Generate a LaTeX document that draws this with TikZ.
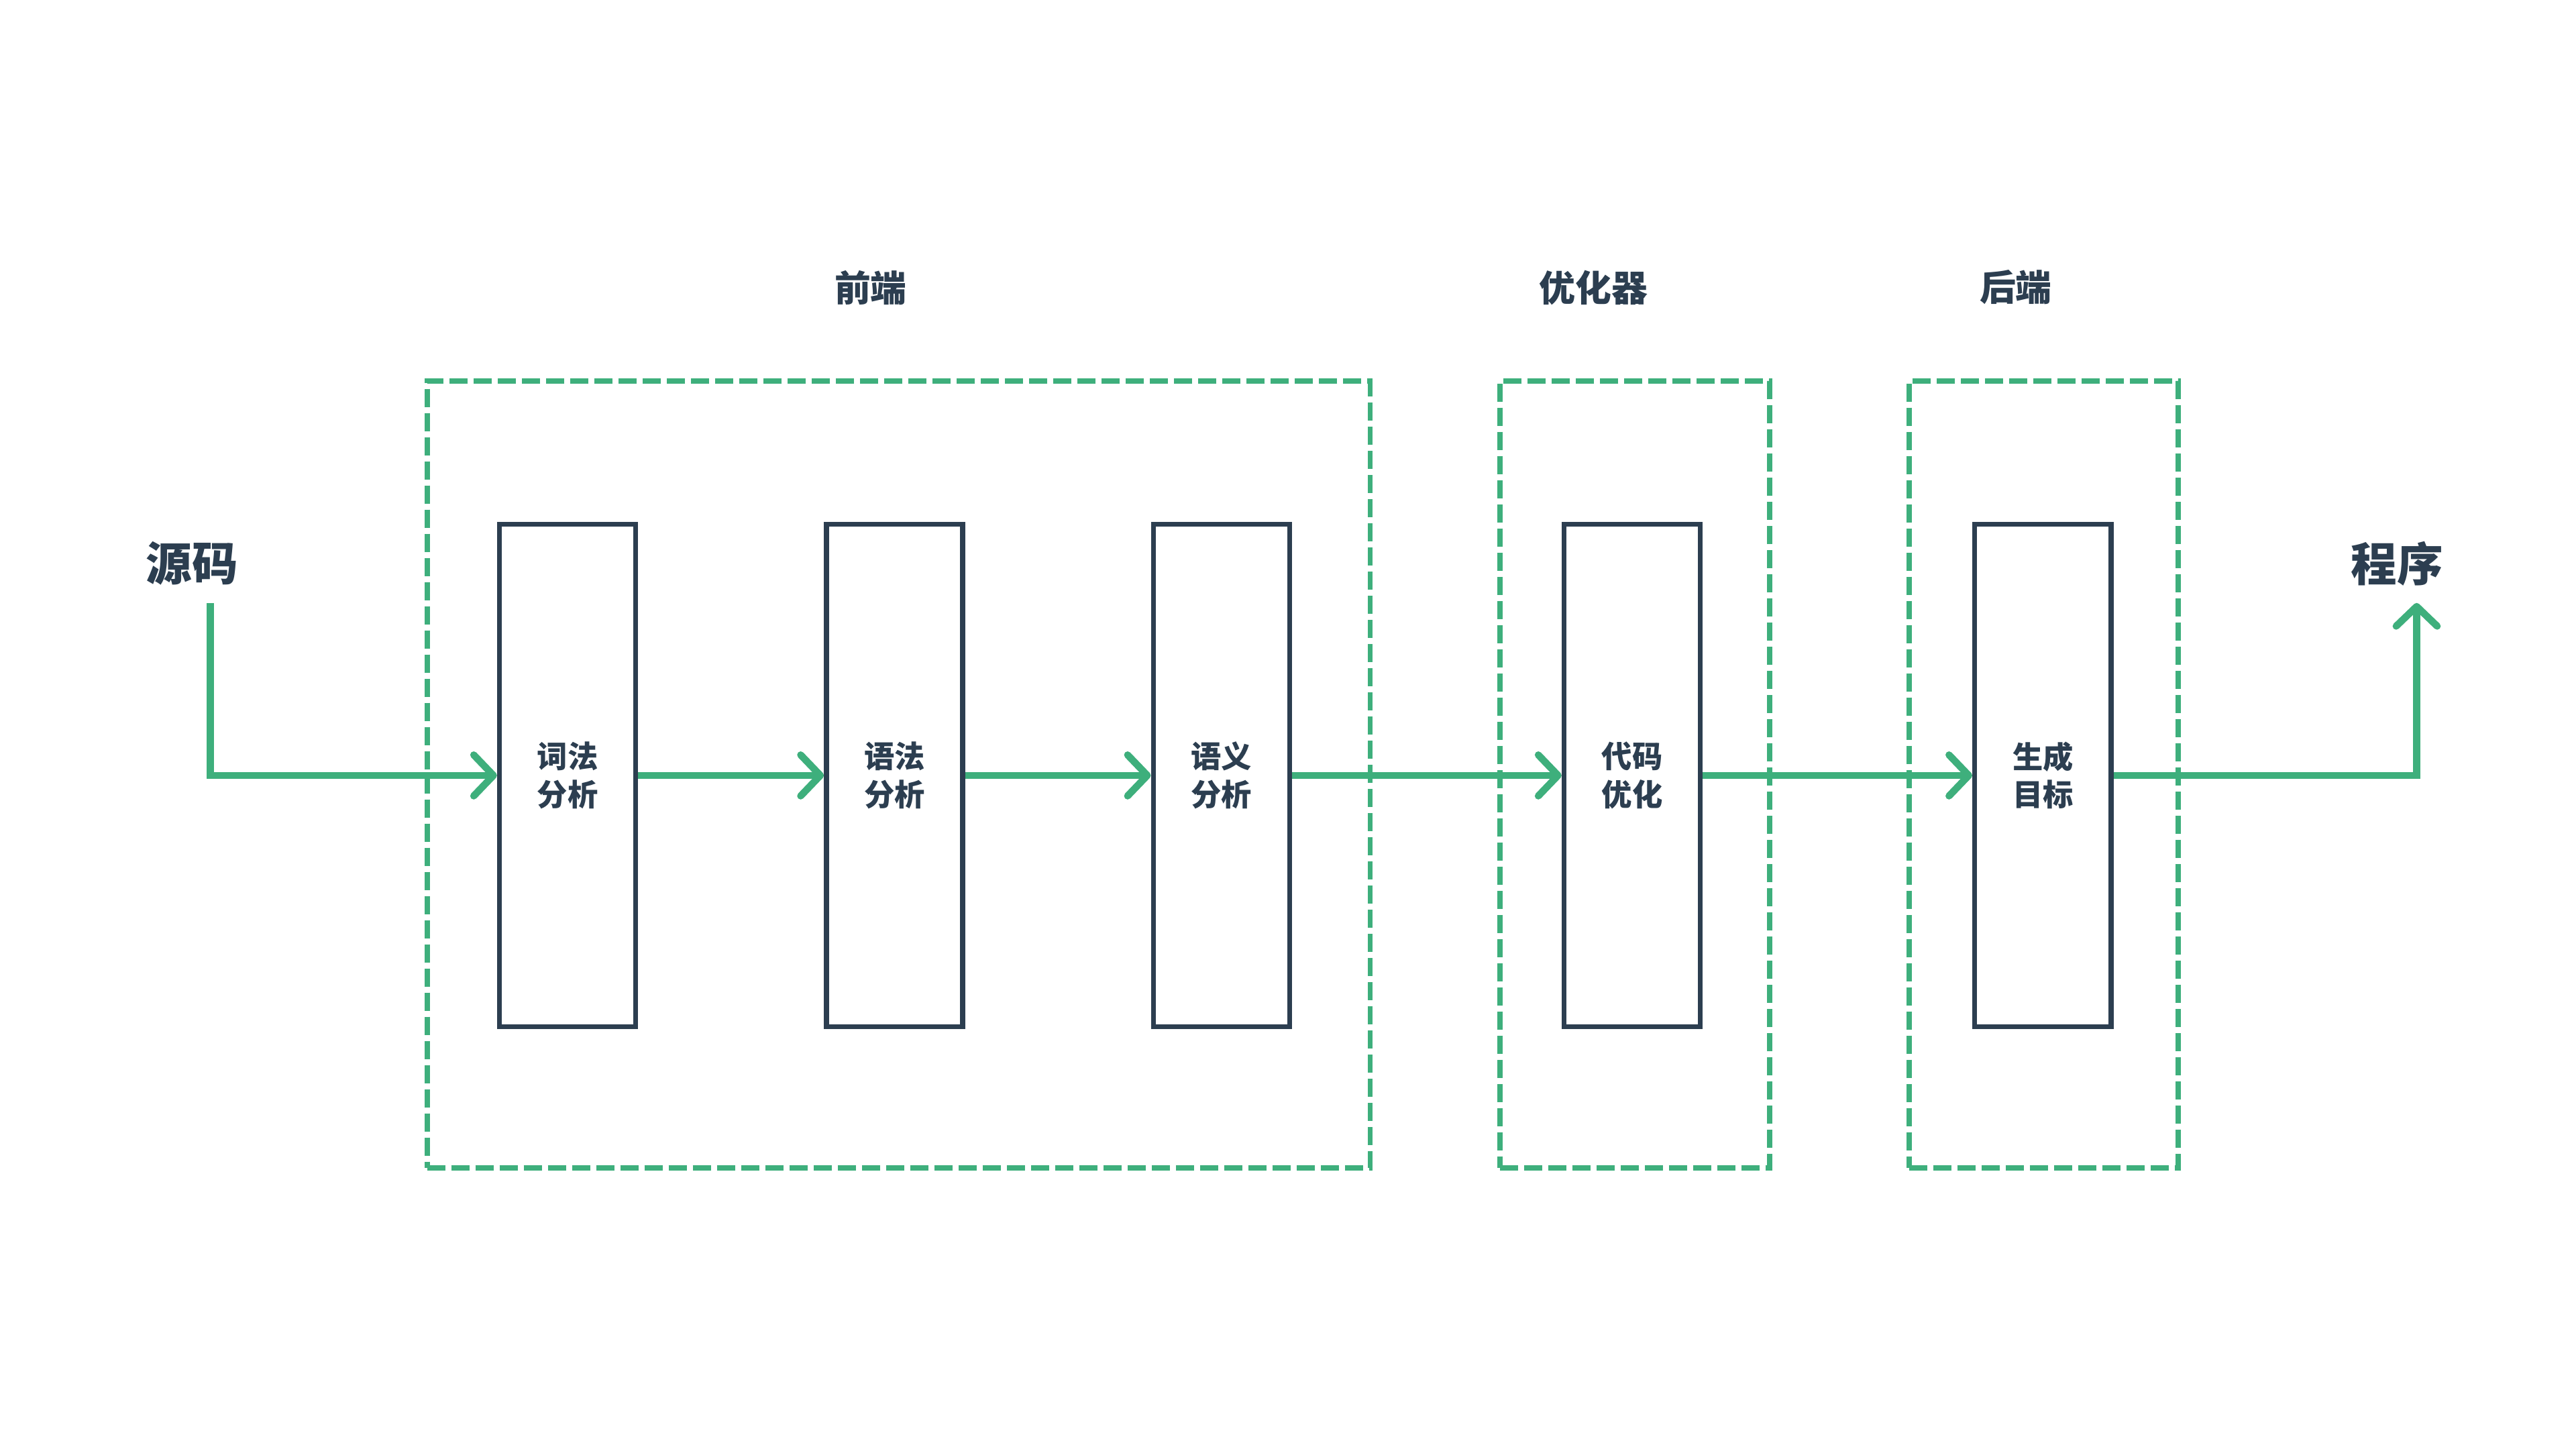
\documentclass[tikz,border=0pt]{standalone}
\usepackage{fontspec}
\setmainfont{Noto Sans CJK SC}
\usetikzlibrary{arrows.meta}
\definecolor{vgreen}{HTML}{3EAF7C}
\definecolor{vnavy}{HTML}{2C3E50}
\tikzset{
  stage/.style={draw=vnavy, line width=3pt, minimum width=83pt, minimum height=306pt, inner sep=0pt,
    align=center, text=vnavy, font=\fontsize{18.5}{23}\selectfont\bfseries},
  group/.style={draw=vgreen, line width=3.2pt, dash pattern=on 11pt off 3.7pt, inner sep=0pt},
  grouplabel/.style={text=vnavy, font=\fontsize{22}{26}\selectfont\bfseries},
  endlabel/.style={text=vnavy, font=\fontsize{28}{32}\selectfont\bfseries},
  flow/.style={draw=vgreen, line width=4.3pt, -{Straight Barb[length=12pt,width=25pt,line cap=round,round]}},
}
\begin{document}
\begin{tikzpicture}[x=1pt,y=-1pt]
\useasboundingbox[fill=white] (0,0) rectangle (1568,882);
% groups
\node[group, minimum width=574pt, minimum height=479pt] (g1) at (547,471.5) {};
\node[group, minimum width=164pt, minimum height=479pt] (g2) at (995,471.5) {};
\node[group, minimum width=164pt, minimum height=479pt] (g3) at (1244,471.5) {};
\node[grouplabel] (l1) at (530,175) {前端};
\node[grouplabel] (l2) at (970,175) {优化器};
\node[grouplabel] (l3) at (1227,175) {后端};
% stages
\node[stage] (s1) at (345.5,472) {词法\\分析};
\node[stage] (s2) at (544.5,472) {语法\\分析};
\node[stage] (s3) at (743.5,472) {语义\\分析};
\node[stage] (s4) at (993.5,472) {代码\\优化};
\node[stage] (s5) at (1243.5,472) {生成\\目标};
% ends
\node[endlabel] (src) at (117,343) {源码};
\node[endlabel] (prog) at (1459,343) {程序};
\coordinate (srcout) at (128,367);
\coordinate (progin) at (1471,367);
% flow
\draw[flow] (srcout) |- (s1.west);
\draw[flow] (s1.east) -- (s2.west);
\draw[flow] (s2.east) -- (s3.west);
\draw[flow] (s3.east) -- (s4.west);
\draw[flow] (s4.east) -- (s5.west);
\draw[flow] (s5.east) -| (progin);
\end{tikzpicture}
\end{document}
